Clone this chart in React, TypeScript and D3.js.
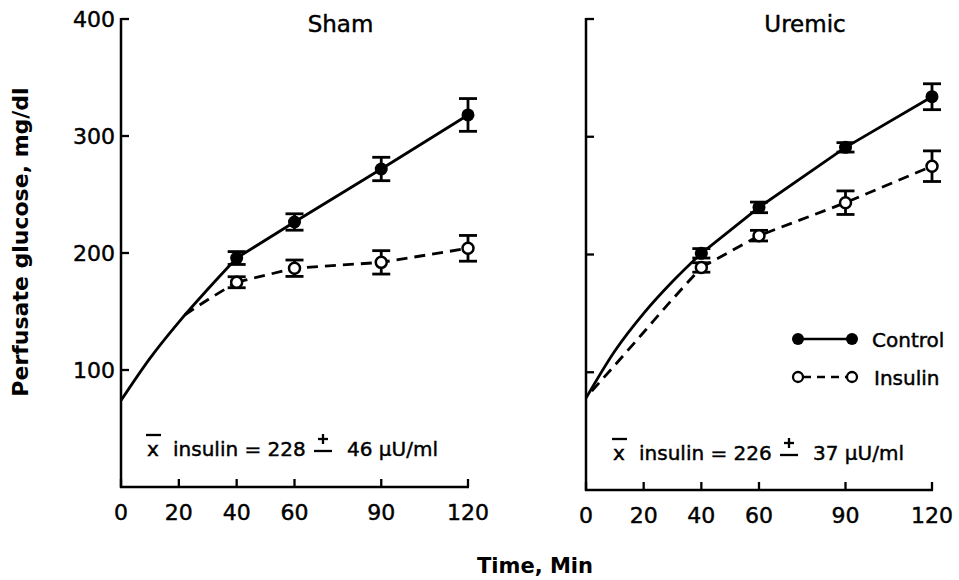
import React from "react";
import * as d3 from "d3";

// ---------- data ----------
const times = [40, 60, 90, 120];
const xTicks = [0, 20, 40, 60, 90, 120];
const yTicks = [100, 200, 300, 400];

const shamControl = [195.7, 226.5, 271.8, 318];
const shamControlErr = [5.5, 7, 10, 14];
const shamInsulin = [175, 187, 192, 204];
const shamInsulinErr = [4.7, 7, 10, 11];
// early smooth-curve points (no measured markers)
const shamControlEarly: [number, number][] = [[0, 74], [10, 110], [20, 141], [30, 169]];
const shamInsulinEarly: [number, number][] = [[22, 147], [30, 160]];

const uremicControl = [201, 240, 291, 334];
const uremicControlErr = [4, 4.5, 4, 11];
const uremicInsulin = [189, 216, 244, 275];
const uremicInsulinErr = [4, 4.5, 10, 13];
const uremicControlEarly: [number, number][] = [[0, 78], [10, 118], [20, 150], [30, 177]];
const uremicInsulinEarly: [number, number][] = [[2, 84], [10, 106], [20, 134], [30, 162]];

const panelTitles = ["Sham", "Uremic"];
const insulinMeans = ["228", "226"];
const insulinSDs = ["46", "37"];
const legendLabels = ["Control", "Insulin"];

const FONT = "DejaVu Sans";
const TXT = { fontFamily: FONT, stroke: "#000", strokeWidth: 0.45 } as const;

interface PanelProps {
  x0: number; x1: number; yTop: number; yBottom: number;
  title: string; showYLabels: boolean;
  control: number[]; controlErr: number[]; insulin: number[]; insulinErr: number[];
  controlEarly: [number, number][]; insulinEarly: [number, number][];
  mean: string; sd: string; annX: number; annY: number;
}

function Panel(p: PanelProps) {
  const x = d3.scaleLinear().domain([0, 120]).range([p.x0, p.x1]);
  const y = d3.scaleLinear().domain([0, 400]).range([p.yBottom, p.yTop]);
  const smooth = d3.line<[number, number]>().x(d => x(d[0])).y(d => y(d[1])).curve(d3.curveMonotoneX);
  const straight = d3.line<[number, number]>().x(d => x(d[0])).y(d => y(d[1]));
  const cData: [number, number][] = times.map((t, i) => [t, p.control[i]]);
  const iData: [number, number][] = times.map((t, i) => [t, p.insulin[i]]);
  const cPath = (smooth([...p.controlEarly, cData[0]]) || "") + (straight(cData) || "");
  const iPath = (smooth([...p.insulinEarly, iData[0]]) || "") + (straight(iData) || "");
  const sw = 2.8;
  const capW = 9;
  const errBars = (vals: number[], errs: number[], key: string) =>
    times.map((t, i) => {
      const cx = x(t);
      const yh = y(vals[i] + errs[i]);
      const yl = y(vals[i] - errs[i]);
      return (
        <g key={key + i} stroke="#000" strokeWidth={sw}>
          <line x1={cx} x2={cx} y1={yh} y2={yl} />
          <line x1={cx - capW} x2={cx + capW} y1={yh} y2={yh} />
          <line x1={cx - capW} x2={cx + capW} y1={yl} y2={yl} />
        </g>
      );
    });
  return (
    <g>
      {/* axes */}
      <line x1={p.x0} x2={p.x0} y1={p.yTop - 1} y2={p.yBottom + 1} stroke="#000" strokeWidth={2.5} />
      <line x1={p.x0 - 1} x2={p.x1 + 1} y1={p.yBottom} y2={p.yBottom} stroke="#000" strokeWidth={2.5} />
      {yTicks.map(v => (
        <g key={"yt" + v}>
          <line x1={p.x0} x2={p.x0 + 8} y1={y(v)} y2={y(v)} stroke="#000" strokeWidth={2.3} />
          {p.showYLabels && (
            <text x={p.x0 - 6} y={y(v)} dy="0.36em" textAnchor="end" fontSize={22} {...TXT}>{v}</text>
          )}
        </g>
      ))}
      {xTicks.map(v => (
        <g key={"xt" + v}>
          <line x1={x(v)} x2={x(v)} y1={p.yBottom} y2={p.yBottom - 8} stroke="#000" strokeWidth={2.3} />
          <text x={x(v)} y={p.yBottom + 33} textAnchor="middle" fontSize={22} {...TXT}>{v}</text>
        </g>
      ))}
      <text x={(p.x0 + p.x1) / 2 + 46} y={32} textAnchor="middle" fontSize={23} {...TXT}>{p.title}</text>
      {/* lines */}
      <path d={cPath} fill="none" stroke="#000" strokeWidth={sw} strokeLinejoin="round" />
      <path d={iPath} fill="none" stroke="#000" strokeWidth={sw} strokeDasharray="11,7" />
      {errBars(p.control, p.controlErr, "ce")}
      {errBars(p.insulin, p.insulinErr, "ie")}
      {times.map((t, i) => (
        <circle key={"cc" + i} cx={x(t)} cy={y(p.control[i])} r={6.5} fill="#000" />
      ))}
      {times.map((t, i) => (
        <circle key={"ic" + i} cx={x(t)} cy={y(p.insulin[i])} r={5.5} fill="#fff" stroke="#000" strokeWidth={2.5} />
      ))}
      {/* annotation */}
      <g fontSize={20}>
        <line x1={p.annX - 1} x2={p.annX + 14} y1={p.annY - 21} y2={p.annY - 21} stroke="#000" strokeWidth={2.3} />
        <text x={p.annX} y={p.annY} {...TXT}>x</text>
        <text x={p.annX + 26} y={p.annY} {...TXT}>{"insulin = " + p.mean}</text>
        <line x1={p.annX + 176} x2={p.annX + 176} y1={p.annY - 22} y2={p.annY - 12} stroke="#000" strokeWidth={2.3} />
        <line x1={p.annX + 171} x2={p.annX + 181} y1={p.annY - 17} y2={p.annY - 17} stroke="#000" strokeWidth={2.3} />
        <line x1={p.annX + 167} x2={p.annX + 185} y1={p.annY - 5} y2={p.annY - 5} stroke="#000" strokeWidth={2.3} />
        <text x={p.annX + 200} y={p.annY} {...TXT}>{p.sd + " µU/ml"}</text>
      </g>
    </g>
  );
}

export default function App() {
  return (
    <svg width={959} height={580} style={{ position: "absolute", left: 0, top: 0, background: "#fff" }}>
      <rect width={959} height={580} fill="#fff" />
      <Panel x0={121} x1={468} yTop={19} yBottom={487} title={panelTitles[0]} showYLabels={true}
        control={shamControl} controlErr={shamControlErr} insulin={shamInsulin} insulinErr={shamInsulinErr}
        controlEarly={shamControlEarly} insulinEarly={shamInsulinEarly}
        mean={insulinMeans[0]} sd={insulinSDs[0]} annX={147} annY={456} />
      <Panel x0={586} x1={932} yTop={19} yBottom={490} title={panelTitles[1]} showYLabels={false}
        control={uremicControl} controlErr={uremicControlErr} insulin={uremicInsulin} insulinErr={uremicInsulinErr}
        controlEarly={uremicControlEarly} insulinEarly={uremicInsulinEarly}
        mean={insulinMeans[1]} sd={insulinSDs[1]} annX={613} annY={460} />
      {/* legend */}
      <g>
        <line x1={798} x2={852} y1={339} y2={339} stroke="#000" strokeWidth={2.5} />
        <circle cx={798} cy={339} r={6} fill="#000" />
        <circle cx={852} cy={339} r={6} fill="#000" />
        <text x={872} y={347} fontSize={20} {...TXT}>{legendLabels[0]}</text>
        <line x1={803} x2={847} y1={377} y2={377} stroke="#000" strokeWidth={2.5} strokeDasharray="8,6" />
        <circle cx={798} cy={377} r={5} fill="#fff" stroke="#000" strokeWidth={2.3} />
        <circle cx={852} cy={377} r={5} fill="#fff" stroke="#000" strokeWidth={2.3} />
        <text x={874} y={385} fontSize={20} {...TXT}>{legendLabels[1]}</text>
      </g>
      {/* axis titles */}
      <text transform="translate(28,242) rotate(-90)" textAnchor="middle" fontFamily={FONT} fontSize={22} fontWeight="bold">
        Perfusate glucose, mg/dl
      </text>
      <text x={535} y={573} textAnchor="middle" fontFamily={FONT} fontSize={21} fontWeight="bold">Time, Min</text>
    </svg>
  );
}
